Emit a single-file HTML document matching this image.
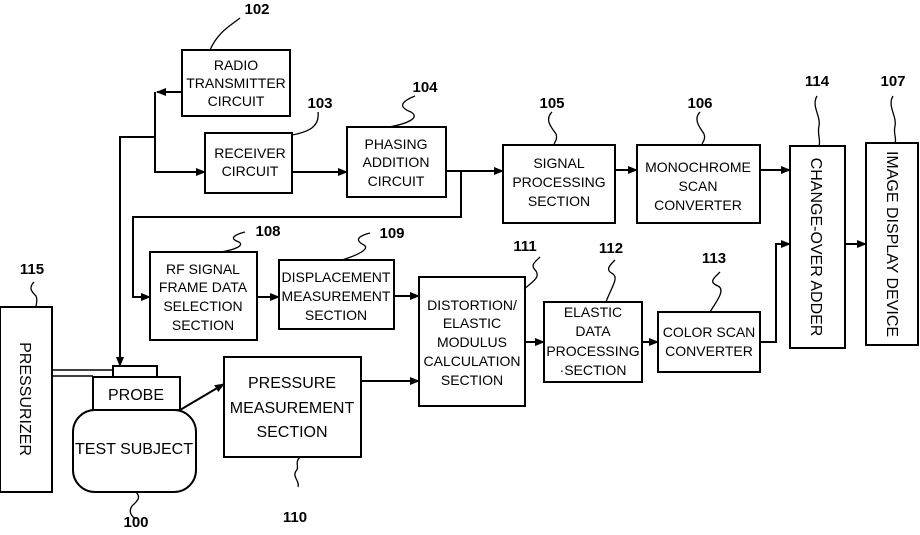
<!DOCTYPE html>
<html><head><meta charset="utf-8"><style>
body{margin:0;background:#fff}
svg text{font-family:"Liberation Sans",sans-serif;font-size:14px;fill:#000;text-anchor:middle}
.n{font-weight:bold;font-size:15px}
</style></head><body>
<svg width="920" height="530" viewBox="0 0 920 530" xmlns="http://www.w3.org/2000/svg">
<defs><marker id="a" markerWidth="10" markerHeight="8" refX="9" refY="4" orient="auto" markerUnits="userSpaceOnUse"><path d="M0,0L10,4L0,8z"/></marker></defs>
<g fill="none" stroke="#000" stroke-width="2">
<rect x="182" y="50" width="108" height="66"/>
<rect x="205" y="133" width="87" height="60"/>
<rect x="347" y="127" width="99" height="70"/>
<rect x="503" y="145" width="112" height="78"/>
<rect x="637" y="145" width="123" height="78"/>
<rect x="790" y="146" width="55" height="202"/>
<rect x="866" y="143" width="52" height="202"/>
<rect x="150" y="252" width="107" height="88"/>
<rect x="279" y="260" width="115" height="69"/>
<rect x="419" y="277" width="106" height="129"/>
<rect x="544" y="302" width="98" height="80"/>
<rect x="658" y="312" width="102" height="60"/>
<rect x="0" y="307" width="52" height="185"/>
<rect x="113" y="366" width="44" height="11"/>
<rect x="93" y="377" width="87" height="33"/>
<rect x="73" y="410" width="123" height="82" rx="22"/>
<rect x="224" y="357" width="137" height="100"/>
<path d="M52 370H113M52 376H93" stroke-width="1.5"/>
<path d="M182 92H157" marker-end="url(#a)"/>
<path d="M155 92V172H205" marker-end="url(#a)"/>
<path d="M155 137H120V366" marker-end="url(#a)"/>
<path d="M292 172H347" marker-end="url(#a)"/>
<path d="M446 171H503" marker-end="url(#a)"/>
<path d="M461 171V217H133V297H150" marker-end="url(#a)"/>
<path d="M615 170H637" marker-end="url(#a)"/>
<path d="M760 170H790" marker-end="url(#a)"/>
<path d="M257 297H279" marker-end="url(#a)"/>
<path d="M394 296H419" marker-end="url(#a)"/>
<path d="M525 342H544" marker-end="url(#a)"/>
<path d="M642 342H658" marker-end="url(#a)"/>
<path d="M760 342H776V244H790" marker-end="url(#a)"/>
<path d="M845 244H866" marker-end="url(#a)"/>
<path d="M361 381H419" marker-end="url(#a)"/>
<path d="M180 410L224 384" marker-end="url(#a)"/>
<g stroke-width="1.3">
<path d="M240 18c-10 8-22 14-30 32"/>
<path d="M318 112c2 15-10 20-26 23"/>
<path d="M415 96c-10 4-20 10-4 16c10 6-5 12-22 15"/>
<path d="M552 112c-8 8 0 16 4 22c2 6-2 8-2 11"/>
<path d="M700 112c-8 8 2 18 4 22c2 6-2 8-2 11"/>
<path d="M817 96c-6 10 4 20 2 30c-2 8 2 14 0 20"/>
<path d="M893 96c-6 10 4 20 2 30c-2 8 2 12 0 17"/>
<path d="M245 232c-8 2-18 6-6 10c6 4-6 8-18 10"/>
<path d="M370 233c-8 2-18 6-6 12c6 4-6 10-22 15"/>
<path d="M540 257c-6 6-10 8-4 14c4 6-2 10-12 18"/>
<path d="M615 260c-6 6-10 10-2 14c6 4-2 14-7 28"/>
<path d="M720 272c-6 6-12 10-2 14c8 4-2 16-8 26"/>
<path d="M34 282c-6 6-2 10 2 14c2 4 0 8 0 11"/>
<path d="M136 492c6 6 0 10-4 14c-4 6 0 10 2 12"/>
<path d="M300 457c-6 6 0 10-4 14c-4 6 4 10 2 16"/>
</g>
</g>
<text x="236" y="70">RADIO</text><text x="236" y="88">TRANSMITTER</text><text x="236" y="106">CIRCUIT</text>
<text x="250" y="158">RECEIVER</text><text x="250" y="176">CIRCUIT</text>
<text x="396" y="149">PHASING</text><text x="396" y="167">ADDITION</text><text x="396" y="186">CIRCUIT</text>
<text x="559" y="168">SIGNAL</text><text x="559" y="187">PROCESSING</text><text x="559" y="206">SECTION</text>
<text x="698" y="172">MONOCHROME</text><text x="698" y="191">SCAN</text><text x="698" y="210">CONVERTER</text>
<text transform="translate(811,247) rotate(90)" style="font-size:16px">CHANGE-OVER ADDER</text>
<text transform="translate(887,244) rotate(90)" style="font-size:16px">IMAGE DISPLAY DEVICE</text>
<text x="203" y="274">RF SIGNAL</text><text x="203" y="292">FRAME DATA</text><text x="203" y="311">SELECTION</text><text x="203" y="330">SECTION</text>
<text x="336" y="282">DISPLACEMENT</text><text x="336" y="301">MEASUREMENT</text><text x="336" y="320">SECTION</text>
<text x="472" y="310">DISTORTION/</text><text x="472" y="328">ELASTIC</text><text x="472" y="347">MODULUS</text><text x="472" y="366">CALCULATION</text><text x="472" y="385">SECTION</text>
<text x="593" y="317">ELASTIC</text><text x="593" y="336">DATA</text><text x="593" y="356">PROCESSING</text><text x="593" y="375">·SECTION</text>
<text x="709" y="337">COLOR SCAN</text><text x="709" y="356">CONVERTER</text>
<text transform="translate(20,399) rotate(90)" style="font-size:16px">PRESSURIZER</text>
<text x="136" y="400" style="font-size:16px">PROBE</text>
<text x="134" y="454" style="font-size:16px">TEST SUBJECT</text>
<text x="292" y="388" style="font-size:16px">PRESSURE</text><text x="292" y="413" style="font-size:16px">MEASUREMENT</text><text x="292" y="437" style="font-size:16px">SECTION</text>
<text class="n" x="257" y="14">102</text><text class="n" x="320" y="108">103</text><text class="n" x="425" y="92">104</text>
<text class="n" x="552" y="108">105</text><text class="n" x="700" y="108">106</text><text class="n" x="817" y="86">114</text>
<text class="n" x="893" y="86">107</text><text class="n" x="268" y="236">108</text><text class="n" x="392" y="238">109</text>
<text class="n" x="525" y="251">111</text><text class="n" x="611" y="253">112</text><text class="n" x="714" y="263">113</text>
<text class="n" x="32" y="274">115</text><text class="n" x="136" y="527">100</text><text class="n" x="295" y="522">110</text>
</svg>
</body></html>
